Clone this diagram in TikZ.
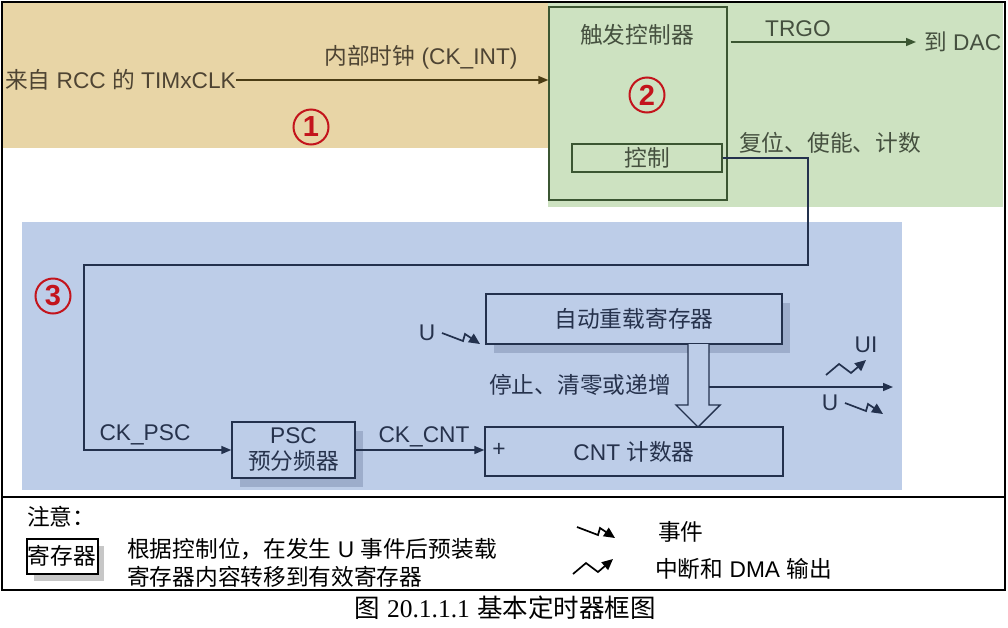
\documentclass[tikz,border=0pt]{standalone}
\usepackage{fontspec}
\setmainfont{Liberation Sans}
\newfontfamily\cjk{Noto Sans CJK SC}
\newfontfamily\capserif{Liberation Serif}
\usetikzlibrary{arrows.meta,calc}
\newcommand\zh[1]{{\cjk #1}}
\definecolor{tanbg}{HTML}{E8D5A6}
\definecolor{greenbg}{HTML}{CDE2C1}
\definecolor{bluebg}{HTML}{BDCDE8}
\definecolor{navy}{HTML}{23314D}
\definecolor{brownln}{HTML}{4A3C14}
\definecolor{greenln}{HTML}{3B5632}
\definecolor{redc}{HTML}{C3141C}
\definecolor{shadowb}{HTML}{9DADCB}
\definecolor{txtbrown}{HTML}{4E4433}
\definecolor{txtgreen}{HTML}{45503F}
\definecolor{txtblue}{HTML}{26324C}
\tikzset{
  txt/.style={font=\fontsize{22.7}{26}\selectfont, inner sep=0pt},
  circnum/.style={circle, draw=redc, line width=2pt, text=redc, minimum size=35pt, inner sep=0pt, font=\bfseries\fontsize{29}{29}\selectfont},
  gbox/.style={draw=greenln, line width=1.4pt, fill=greenbg, inner sep=0pt},
  bbox/.style={draw=navy, line width=1.4pt, fill=bluebg, inner sep=0pt},
  tip/.style={-{Triangle[length=10pt,width=8pt]}},
  ztip/.style={-{Triangle[length=11pt,width=10pt]}},
  evt/.pic={\draw[line width=1.7pt, ztip] (0,0) -- (21,8) -- (23,1) -- (38,11);},
  intr/.pic={\draw[line width=1.7pt, ztip] (0,0) -- (13,-11) -- (25,-2) -- (40,-15);}
}
\begin{document}
\begin{tikzpicture}[x=1pt,y=-1pt]
\useasboundingbox (0,0) rectangle (1008,627);
\fill[white] (0,0) rectangle (1008,627);
% regions
\fill[tanbg] (3,3) rectangle (548,148);
\fill[greenbg] (548,3) rectangle (1003,207);
\fill[bluebg] (22,222) rectangle (902,490);
% frame
\draw[line width=2.5pt] (2,2) rectangle (1005,497);
\draw[line width=2pt] (2,497) rectangle (1005,590);

% region 1
\node[txt, text=txtbrown, anchor=east] (src) at (236,80) {\zh{来自} RCC \zh{的} TIMxCLK};
\node[circnum] (n1) at (311,127) {1};

% region 2
\node[gbox, minimum width=178pt, minimum height=193pt] (trig) at (638,103.5) {};
\node[txt, text=txtgreen] (trigl) at (637,35) {\zh{触发控制器}};
\node[circnum] (n2) at (647,95) {2};
\node[gbox, minimum width=150pt, minimum height=28pt] (ctrl) at (647,158) {};
\node[txt, text=txtgreen] at (ctrl) {\zh{控制}};
\node[txt, text=txtgreen, anchor=west] (dac) at (924,42) {\zh{到} DAC};
\node[txt, text=txtgreen] (trgo) at (798,29) {TRGO};
\node[txt, text=txtgreen, anchor=west] (rst) at (739,143) {\zh{复位、使能、计数}};

\draw[brownln, line width=1.5pt, tip] (src.east) -- (trig.west |- src.east);
\node[txt, text=txtbrown] (ckint) at (421,57) {\zh{内部时钟} (CK\_INT)};
\draw[greenln, line width=1.5pt, tip] (trig.east |- dac.west) ++(3,0) -- ($(dac.west)+(-8,0)$);

% region 3
\node[circnum] (n3) at (53,296) {3};
\fill[shadowb] (494,303) rectangle (790,353);
\node[bbox, minimum width=296pt, minimum height=50pt] (reload) at (634,319) {};
\node[txt, text=txtblue] at (reload) {\zh{自动重载寄存器}};
\node[bbox, minimum width=298pt, minimum height=49pt] (cnt) at (634,451.5) {};
\node[txt, text=txtblue] at (cnt) {CNT \zh{计数器}};
\node[txt, text=txtblue] (plus) at (499,450) {+};
\fill[shadowb] (240,431) rectangle (363,487);
\node[bbox, minimum width=123pt, minimum height=56pt] (psc) at (293.5,450) {};
\node[txt, text=txtblue, align=center] at (psc) {PSC\\[0pt]\zh{预分频器}};

\coordinate (c1) at (808,265);
\coordinate (c2) at (84,265);
\draw[navy, line width=1.5pt, tip] (ctrl.east) -| (c1) -- (c2) |- (psc.west);
\draw[navy, line width=1.5pt, tip] (psc.east) -- (cnt.west |- psc.east);
\node[txt, text=txtblue] (ckpsc) at (145,435) {CK\_PSC};
\node[txt, text=txtblue] (ckcnt) at (424,437) {CK\_CNT};

% hollow arrow
\draw[navy, line width=1.4pt, fill=bluebg, line join=miter]
  (688,344) -- (688,405) -- (676,405) -- (698,427) -- (720,405) -- (709,405) -- (709,344);
\coordinate (tap) at (709,387);
\coordinate (uout) at (893,387);
\draw[navy, line width=1.5pt, tip] (tap) -- (uout);
\node[txt, text=txtblue, anchor=west] (stop) at (489,385) {\zh{停止、清零或递增}};

% U / UI markers
\node[txt, text=txtblue] (uin) at (427,333) {U};
\pic[navy] at (442,333) {evt};
\node[txt, text=txtblue] (ui) at (866,345) {UI};
\pic[navy] at (826,375) {intr};
\node[txt, text=txtblue] (uo) at (830,403) {U};
\pic[navy] at (845,403) {evt};

% note area
\node[txt, anchor=west] (note) at (27,517) {\zh{注意：}};
\fill[black!22] (34,546) rectangle (104,581);
\node[draw, line width=2pt, fill=white, minimum width=71pt, minimum height=35pt, inner sep=0pt] (reg) at (62,556) {};
\node[txt] at (reg) {\zh{寄存器}};
\node[txt, anchor=west] (l1) at (127,549) {\zh{根据控制位，在发生} U \zh{事件后预装载}};
\node[txt, anchor=west] (l2) at (127,577) {\zh{寄存器内容转移到有效寄存器}};
\pic at (577,527) {evt};
\node[txt, anchor=west] (evl) at (658,532) {\zh{事件}};
\pic at (573,574) {intr};
\node[txt, anchor=west] (inl) at (655,569) {\zh{中断和} DMA \zh{输出}};

% caption
\node[inner sep=0pt, font=\fontsize{25.5}{28}\selectfont] (cap) at (505,608) {\zh{图} {\capserif 20.1.1.1} \zh{基本定时器框图}};
\end{tikzpicture}
\end{document}
